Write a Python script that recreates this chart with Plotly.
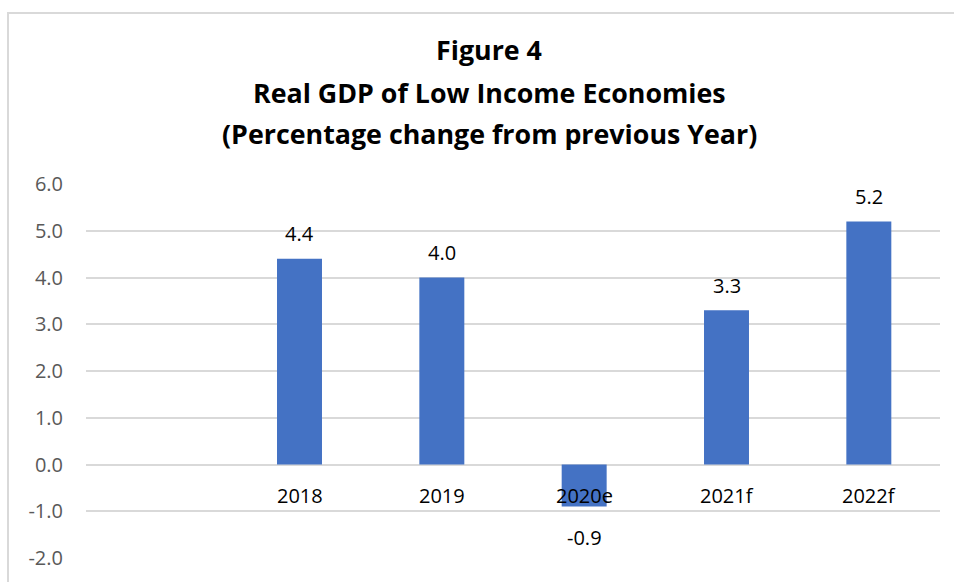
import plotly.graph_objects as go

categories = ["2018", "2019", "2020e", "2021f", "2022f"]
values = [4.4, 4.0, -0.9, 3.3, 5.2]
y_ticks = [6, 5, 4, 3, 2, 1, 0, -1, -2]
y_tick_labels = ["6.0", "5.0", "4.0", "3.0", "2.0", "1.0", "0.0", "-1.0", "-2.0"]
title_lines = ["Figure 4", "Real GDP of Low Income Economies", "(Percentage change from previous Year)"]

W, H = 954, 582
ML, MR, MT, MB = 86, 14, 184, 24
PW, PH = W - ML - MR, H - MT - MB

FONT = "Open Sans, Liberation Sans, sans-serif"

fig = go.Figure()
fig.add_trace(go.Bar(
    x=categories, y=values,
    marker=dict(color="#4472C4", line=dict(width=0)),
    width=0.316,
    hoverinfo="skip",
))

annotations = []
for i, (c, v) in enumerate(zip(categories, values)):
    # data labels
    annotations.append(dict(
        x=i, y=v, xref="x", yref="y", text=f"{v:.1f}", showarrow=False,
        yanchor="middle", yshift=25 if v >= 0 else -31,
        font=dict(family=FONT, size=20, color="#000000"),
    ))
    # category labels next to the zero line
    annotations.append(dict(
        x=i, y=0, xref="x", yref="y", text=c, showarrow=False,
        yanchor="middle", yshift=-30.5,
        font=dict(family=FONT, size=20, color="#000000"),
    ))

# title lines
title_y = [50, 93, 133]
title_cx = 489
for t, ty in zip(title_lines, title_y):
    annotations.append(dict(
        x=(title_cx - ML) / PW, y=1 + (MT - ty) / PH, xref="paper", yref="paper",
        xanchor="center", yanchor="middle",
        text=f"<b>{t}</b>", showarrow=False,
        font=dict(family=FONT, size=26.8, color="#000000"),
    ))

# outer chart border (left and top visible)
shapes = [dict(
    type="rect", xref="paper", yref="paper",
    x0=(8 - ML) / PW, x1=1 + (MR + 10) / PW,
    y0=-(MB + 10) / PH, y1=1 + (MT - 13) / PH,
    line=dict(color="#D9D9D9", width=2), fillcolor="rgba(0,0,0,0)", layer="below",
)]

fig.update_layout(
    width=W, height=H,
    margin=dict(l=ML, r=MR, t=MT, b=MB),
    paper_bgcolor="white", plot_bgcolor="white",
    showlegend=False,
    annotations=annotations,
    shapes=shapes,
    xaxis=dict(
        type="category", categoryorder="array", categoryarray=categories,
        range=[-1.5, 4.5], showticklabels=False, showgrid=False,
        zeroline=False, showline=False, ticks="", fixedrange=True,
    ),
    yaxis=dict(
        range=[-2, 6], tickvals=y_ticks, ticktext=y_tick_labels,
        showgrid=True, gridcolor="#D9D9D9", gridwidth=1.5,
        zeroline=True, zerolinecolor="#D9D9D9", zerolinewidth=1.5,
        showline=False, ticks="", ticklabelstandoff=22,
        tickfont=dict(family=FONT, size=20, color="#595959"),
        fixedrange=True,
    ),
)

fig.write_html("out.html")
